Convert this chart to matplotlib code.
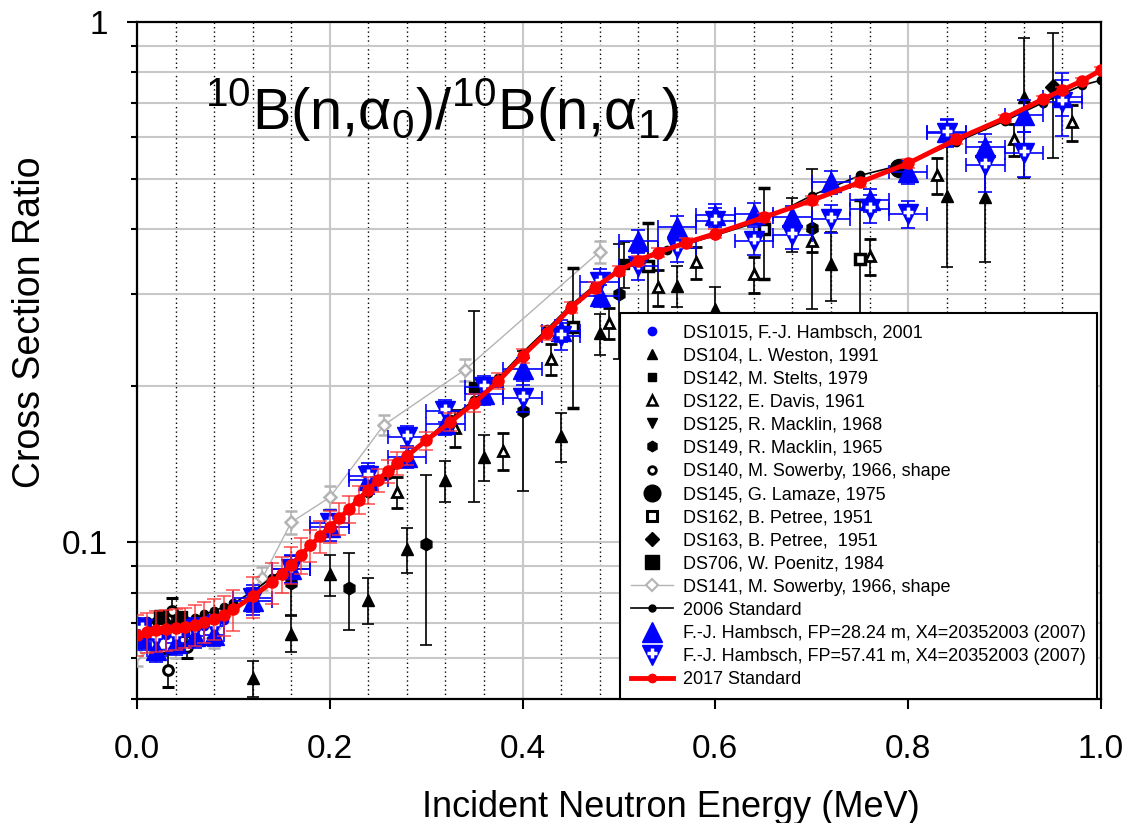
import matplotlib
matplotlib.use('Agg')
import matplotlib.pyplot as plt
from matplotlib.lines import Line2D
from matplotlib.markers import MarkerStyle
from matplotlib.transforms import Affine2D
from matplotlib.legend_handler import HandlerTuple
from matplotlib.ticker import LogLocator, MultipleLocator, NullFormatter, FormatStrFormatter

plt.rcParams['font.family'] = ['Liberation Sans', 'DejaVu Sans']
plt.rcParams['mathtext.fontset'] = 'custom'
plt.rcParams['mathtext.rm'] = 'Liberation Sans'

# ---- data (energy in MeV, cross section ratio) ----
# 2017 Standard
e17 = [0.0, 0.01, 0.02, 0.03, 0.04, 0.05, 0.06, 0.07, 0.08, 0.09, 0.10, 0.12, 0.14, 0.15,
       0.16, 0.17, 0.18, 0.19, 0.20, 0.21, 0.22, 0.23, 0.24, 0.25, 0.26, 0.27, 0.28,
       0.30, 0.325, 0.35, 0.375, 0.40, 0.425, 0.45, 0.475, 0.50,
       0.52, 0.54, 0.57, 0.60, 0.65, 0.70, 0.75, 0.80, 0.85, 0.90, 0.94, 0.96, 0.98, 1.0]
r17 = [0.0665, 0.0672, 0.0677, 0.0680, 0.0683, 0.0687, 0.0694, 0.0703, 0.0713, 0.0725, 0.0743,
       0.0787, 0.0838, 0.0868,
       0.0905, 0.0945, 0.0987, 0.1027, 0.1072, 0.1112, 0.1160, 0.1208, 0.1262, 0.1318, 0.1370, 0.1420, 0.1465,
       0.1570, 0.1703, 0.1853, 0.2042, 0.2283, 0.2527, 0.2824, 0.3086, 0.3329,
       0.3478, 0.3604, 0.3768, 0.392, 0.421, 0.454, 0.492, 0.535, 0.595, 0.653, 0.711, 0.740, 0.770, 0.808]
u17 = [9, 9, 9, 9, 9, 9, 9, 9, 9, 9, 9, 9, 9, 8,
       8, 8, 7, 7, 7, 7, 6, 6, 6, 5, 5, 5, 4,
       4, 4, 4, 3.5, 3, 3, 2.5, 2.5, 2,
       2, 2, 2, 2, 2, 2, 2, 2, 2, 1.5, 1.5, 1.5, 1.5, 1.5]

# 2006 Standard
e06 = [0.0, 0.01, 0.02, 0.03, 0.04, 0.05, 0.06, 0.07, 0.08, 0.09, 0.10,
       0.12, 0.14, 0.16, 0.18, 0.20, 0.22, 0.24, 0.26, 0.28, 0.30,
       0.325, 0.35, 0.375, 0.40, 0.425, 0.45, 0.475, 0.50,
       0.55, 0.60, 0.65, 0.70, 0.75, 0.80, 0.85, 0.90, 0.94, 0.98, 1.0]
r06 = [0.0705, 0.0705, 0.0705, 0.0704, 0.0704, 0.0708, 0.0716, 0.0727, 0.0739, 0.0750, 0.0763,
       0.0805, 0.0855, 0.0912, 0.0985, 0.1065, 0.1155, 0.1245, 0.1345, 0.1450, 0.1580,
       0.1725, 0.1880, 0.2070, 0.2315, 0.2565, 0.2855, 0.3120, 0.3340,
       0.364, 0.389, 0.416, 0.464, 0.507, 0.535, 0.588, 0.645, 0.700, 0.755, 0.773]

# F.-J. Hambsch, FP=28.24 m and FP=57.41 m
e_fj = [0.005, 0.02, 0.04, 0.06, 0.08, 0.12, 0.16, 0.20, 0.24, 0.28, 0.32, 0.36, 0.40, 0.44,
        0.48, 0.52, 0.56, 0.60, 0.64, 0.68, 0.72, 0.76, 0.80, 0.84, 0.88, 0.92, 0.96]
de_fj = [0.01, 0.01, 0.01, 0.01, 0.01, 0.02, 0.02, 0.02, 0.02, 0.02, 0.02, 0.02, 0.02, 0.02,
         0.02, 0.02, 0.02, 0.02, 0.02, 0.02, 0.02, 0.02, 0.02, 0.02, 0.02, 0.02, 0.02]
r_fj28 = [0.0655, 0.0620, 0.0640, 0.0660, 0.0665, 0.0770, 0.0887, 0.107, 0.132, 0.146, 0.169, 0.193,
          0.215, 0.255, 0.298, 0.380, 0.403, 0.425, 0.428, 0.421, 0.492, 0.455, 0.514, 0.614,
          0.574, 0.662, 0.717]
u_fj28 = [5, 5, 5, 5, 5, 6, 6, 6, 6, 5, 5, 5, 5, 5, 5, 5, 5, 5, 5, 5, 5, 5, 5, 6, 6, 7, 8]
r_fj57 = [0.0680, 0.0655, 0.0660, 0.0680, 0.0690, 0.0780, 0.0890, 0.109, 0.134, 0.1595, 0.179, 0.199,
          0.189, 0.249, 0.316, 0.340, 0.368, 0.415, 0.380, 0.390, 0.419, 0.438, 0.428, 0.611,
          0.530, 0.559, 0.701]
u_fj57 = [5, 5, 5, 5, 5, 6, 6, 6, 6, 5, 5, 5, 6, 6, 6, 6, 6, 6, 6, 6, 6, 6, 6, 6, 11, 10, 14]

# DS1015, F.-J. Hambsch, 2001
e1015 = [0.01, 0.03, 0.05, 0.07, 0.09]
r1015 = [0.0660, 0.0665, 0.0670, 0.0690, 0.0710]

# DS104, L. Weston, 1991
e104 = [0.12, 0.16, 0.20, 0.24, 0.28, 0.32, 0.36, 0.44, 0.48, 0.56, 0.60, 0.68, 0.72, 0.84, 0.88, 0.92]
r104 = [0.0548, 0.0668, 0.0868, 0.0775, 0.097, 0.1316, 0.146, 0.160, 0.252, 0.311, 0.281,
        0.410, 0.343, 0.464, 0.460, 0.717]
u104 = [8, 8, 9, 10, 10, 9, 10, 11, 9, 9, 10, 12, 15, 27, 25, 30]

# DS142, M. Stelts, 1979
e142 = [0.35, 0.505]
r142 = [0.199, 0.343]
u142 = [40, 10]

# DS122, E. Davis, 1961
e122 = [0.27, 0.33, 0.38, 0.43, 0.49, 0.54, 0.58, 0.64, 0.70, 0.76, 0.83, 0.91, 0.97]
r122 = [0.125, 0.166, 0.150, 0.225, 0.264, 0.309, 0.345, 0.328, 0.380, 0.355, 0.507, 0.595, 0.642]
u122 = [7, 8, 8, 7, 7, 8, 7, 8, 5, 8, 8, 7, 8]

# DS125, R. Macklin, 1968
e125 = [0.01]
r125 = [0.0695]

# DS149, R. Macklin, 1965
e149 = [0.16, 0.22, 0.30, 0.40, 0.50, 0.70]
r149 = [0.0834, 0.0816, 0.0991, 0.179, 0.300, 0.401]
u149 = [13, 17, 36, 30, 25, 30]

# DS140, M. Sowerby, 1966, shape
e140 = [0.032, 0.036, 0.052]
r140 = [0.0569, 0.0739, 0.0630]
u140 = [7.5, 6, 5]

# DS145, G. Lamaze, 1975
e145 = [0.79]
r145 = [0.523]

# DS162, B. Petree, 1951
e162 = [0.452, 0.53, 0.65, 0.75]
r162 = [0.259, 0.339, 0.400, 0.350]
u162 = [30, 21, 20, 30]

# DS163, B. Petree, 1951
e163 = [0.95]
r163 = [0.750]
u163 = [27]

# DS706, W. Poenitz, 1984
e706 = [0.025, 0.045]
r706 = [0.0720, 0.0715]

# DS141, M. Sowerby, 1966, shape
e141 = [0.0, 0.04, 0.08, 0.13, 0.16, 0.20, 0.256, 0.34, 0.48]
r141 = [0.0610, 0.0630, 0.0660, 0.0853, 0.1093, 0.122, 0.168, 0.2145, 0.362]
u141 = [5, 5, 5, 5, 5, 5, 4.5, 5, 5]


def abs_err(vals, pct):
    return [v * p / 100.0 for v, p in zip(vals, pct)]


fig = plt.figure(figsize=(11.33, 8.23), dpi=100)
ax = fig.add_axes([0.1209, 0.1507, 0.8508, 0.8226])

BLUE = '#0000ff'
GRAY = '#b4b4b4'
eb = dict(capsize=4.5, elinewidth=1.2, capthick=1.2)
# white cross sitting in the upper part of the down triangle
plus_up = MarkerStyle('+', transform=Affine2D().translate(0, 0.2))

# gray Sowerby shape
ax.errorbar(e141, r141, yerr=abs_err(r141, u141), color=GRAY, ecolor=GRAY, lw=1, marker='D',
            ms=6, mfc='white', mec=GRAY, mew=1.8, zorder=3, **eb)

# black data sets
ax.errorbar(e104, r104, yerr=abs_err(r104, u104), fmt='^', color='black', ms=8, zorder=4, **eb)
ax.errorbar(e149, r149, yerr=abs_err(r149, u149), fmt='h', color='black', ms=9, zorder=4, **eb)
ax.errorbar(e122, r122, yerr=abs_err(r122, u122), fmt='^', color='black', mfc='white', mec='black',
            mew=2, ms=7, zorder=4, **eb)
ax.errorbar(e140, r140, yerr=abs_err(r140, u140), fmt='o', color='black', mfc='white', mec='black',
            mew=2.2, ms=7, zorder=4, **eb)
ax.errorbar(e162, r162, yerr=abs_err(r162, u162), fmt='s', color='black', mfc='white', mec='black',
            mew=2.5, ms=7, zorder=4, **eb)
ax.errorbar(e142, r142, yerr=abs_err(r142, u142), fmt='s', color='black', ms=7, zorder=4, **eb)
ax.errorbar(e163, r163, yerr=abs_err(r163, u163), fmt='D', color='black', ms=8, zorder=4, **eb)
ax.plot(e145, r145, 'o', color='black', ms=13, zorder=4)
ax.plot(e706, r706, 's', color='black', ms=10, zorder=4)
ax.plot(e125, r125, 'v', color='black', ms=8, zorder=4)

# 2006 standard
ax.plot(e06, r06, '-o', color='black', lw=1.2, ms=6, zorder=5)

# Hambsch 2007 (two flight paths) and 2001
ax.plot(e1015, r1015, 'o', color=BLUE, ms=6, zorder=5)
ax.errorbar(e_fj, r_fj28, xerr=de_fj, yerr=abs_err(r_fj28, u_fj28), fmt='^', color=BLUE, ms=15,
            zorder=6, capsize=5, elinewidth=1.2, capthick=1.2)
ax.errorbar(e_fj, r_fj57, xerr=de_fj, yerr=abs_err(r_fj57, u_fj57), fmt='v', color=BLUE, ms=15,
            zorder=6, capsize=5, elinewidth=1.2, capthick=1.2)
ax.plot(e_fj, r_fj57, ls='none', marker=plus_up, color='white', ms=7, mew=2.5, zorder=6.5)

# 2017 standard
ax.errorbar(e17, r17, yerr=abs_err(r17, u17), fmt='none', ecolor='#ff3030', alpha=0.8,
            capsize=5, elinewidth=1.2, capthick=1.2, zorder=7)
ax.plot(e17, r17, '-o', color='red', lw=3.5, ms=8, zorder=8)

# ---- axes ----
ax.set_yscale('log')
ax.set_xlim(0.0, 1.0)
ax.set_ylim(0.05, 1.0)
ax.xaxis.set_major_locator(MultipleLocator(0.2))
ax.xaxis.set_minor_locator(MultipleLocator(0.04))
ax.xaxis.set_major_formatter(FormatStrFormatter('%.1f'))
ax.set_yticks([0.1, 1.0], ['0.1', '1'])
ax.yaxis.set_minor_locator(LogLocator(base=10, subs=[2, 3, 4, 5, 6, 7, 8, 9]))
ax.yaxis.set_minor_formatter(NullFormatter())

ax.set_axisbelow(True)
ax.grid(True, which='both', axis='y', color='#c8c8c8', lw=1.5)
ax.grid(True, which='major', axis='x', color='#c8c8c8', lw=1.5)
ax.grid(True, which='minor', axis='x', color='black', lw=1, linestyle=(0, (1, 2.2)))

for s in ax.spines.values():
    s.set_linewidth(1.6)
ax.tick_params(axis='x', which='major', direction='out', length=7, width=1.5, pad=18, labelsize=24)
ax.tick_params(axis='x', which='minor', length=0)
ax.tick_params(axis='y', which='major', direction='out', length=7, width=1.5, pad=14, labelsize=24)
ax.tick_params(axis='y', which='minor', direction='out', length=4, width=1.5)

ax.set_xlabel('Incident Neutron Energy (MeV)', fontsize=26)
ax.xaxis.set_label_coords(0.554, -0.134)
ax.set_ylabel('Cross Section Ratio', fontsize=27)
ax.yaxis.set_label_coords(-0.111, 0.557)
ax.yaxis.label.set_va('center')

fig.text(0.181, 0.842,
         r'$^{\mathregular{10}}$B(n,α$_{\mathregular{0}}$)/$^{\mathregular{10}}$B(n,α$_{\mathregular{1}}$)',
         fontsize=41.5, va='baseline', ha='left')

# ---- legend ----
def mk(marker, **kw):
    return Line2D([], [], ls='none', marker=marker, **kw)

handles = [
    mk('o', color=BLUE, ms=6),
    mk('^', color='black', ms=7),
    mk('s', color='black', ms=6),
    mk('^', mfc='white', mec='black', mew=1.8, ms=6.5),
    mk('v', color='black', ms=7),
    mk('h', color='black', ms=7.5),
    mk('o', mfc='white', mec='black', mew=2, ms=5.5),
    mk('o', color='black', ms=12),
    mk('s', mfc='white', mec='black', mew=2.2, ms=6.5),
    mk('D', color='black', ms=7),
    mk('s', color='black', ms=10),
    Line2D([], [], color=GRAY, lw=1, marker='D', ms=6, mfc='white', mec=GRAY, mew=1.5),
    Line2D([], [], color='black', lw=1.2, marker='o', ms=5),
    mk('^', color=BLUE, ms=14),
    (mk('v', color=BLUE, ms=14), mk(plus_up, color='white', ms=7, mew=2.5)),
    Line2D([], [], color='red', lw=3.5, marker='o', ms=6),
]
labels = [
    'DS1015, F.-J. Hambsch, 2001',
    'DS104, L. Weston, 1991',
    'DS142, M. Stelts, 1979',
    'DS122, E. Davis, 1961',
    'DS125, R. Macklin, 1968',
    'DS149, R. Macklin, 1965',
    'DS140, M. Sowerby, 1966, shape',
    'DS145, G. Lamaze, 1975',
    'DS162, B. Petree, 1951',
    'DS163, B. Petree,  1951',
    'DS706, W. Poenitz, 1984',
    'DS141, M. Sowerby, 1966, shape',
    '2006 Standard',
    'F.-J. Hambsch, FP=28.24 m, X4=20352003 (2007)',
    'F.-J. Hambsch, FP=57.41 m, X4=20352003 (2007)',
    '2017 Standard',
]
leg = ax.legend(handles, labels, loc='lower right', bbox_to_anchor=(0.996, 0.0),
                fontsize=13, frameon=True, fancybox=False, edgecolor='black', framealpha=1,
                borderpad=0.6, labelspacing=0.34, handlelength=2.3, handletextpad=0.6,
                borderaxespad=0.0, handler_map={tuple: HandlerTuple(ndivide=1, pad=0)})
leg.get_frame().set_linewidth(1.5)
leg.set_zorder(20)

plt.savefig('out.png', dpi=100)
